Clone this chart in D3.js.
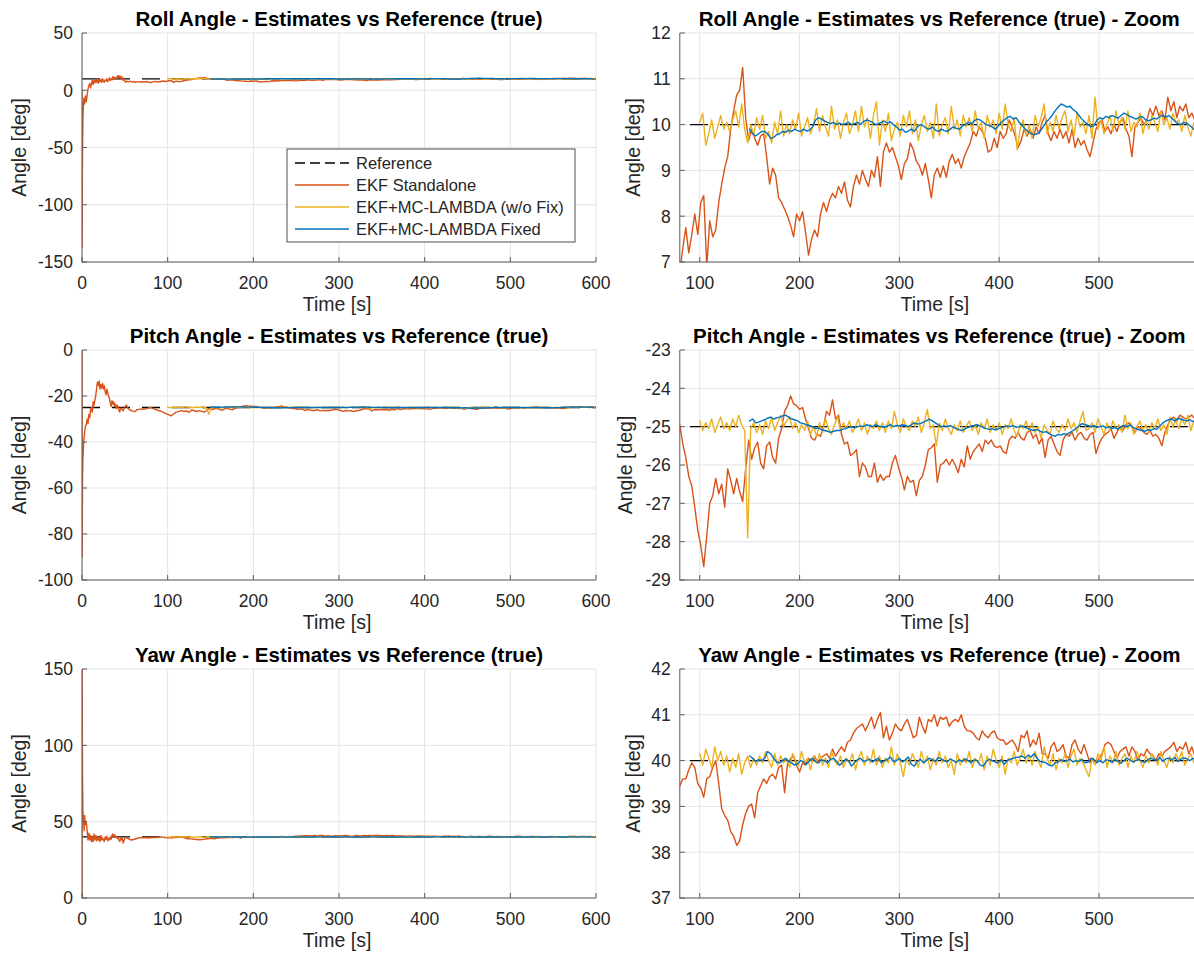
<!DOCTYPE html>
<html>
<head>
<meta charset="utf-8">
<script src="https://cdn.jsdelivr.net/npm/d3@7"></script>
<style>
  body { margin: 0; background: #ffffff; }
  svg { display: block; font-family: "Liberation Sans", Arial, Helvetica, sans-serif; }
</style>
</head>
<body>
<svg id="fig" width="1194" height="955"></svg>
<script>
// ---------------------------------------------------------------
// Attitude estimates (deg) vs time (s).
// Main series are sampled every 3 s from their first epoch;
// the EKF start-up transient (t < 80 s) is kept as [t, value] pairs.
// ---------------------------------------------------------------
const SAMPLE_STEP = 3;
const EKF_START = 80, NOFIX_START = 100, FIXED_START = 150;

const seriesNames  = ["Reference", "EKF Standalone", "EKF+MC-LAMBDA (w/o Fix)", "EKF+MC-LAMBDA Fixed"];
const seriesColors = ["#000000", "#D95319", "#EDB120", "#0072BD"];

// reference (true) attitude
const rollRef = 10, pitchRef = -25, yawRef = 40;

// ---------- ROLL ----------
const rollEkfEarly = [[0,0],[0.2,-137],[0.4,-75],[0.8,-40],[1.2,-22],[1.7,-12],[2.3,-7],[3,-12],[4,-5],[5,-10],[6,-4],[7,1],[8,4],[9,6],[10,2],[11,6],[12,8.5],[13,5],[14,9],[15,6.5],[16,9],[17,7],[18,10],[19,6],[20,9],[21,7.5],[22,9.5],[23,7],[24,10],[25,8],[26,7],[27,9],[28,8],[29,10],[30,7.5],[31,9],[32,11],[33,8.5],[34,10],[35,9],[36,12],[37,10],[38,11],[39,9.5],[40,11.5],[41,10],[42,13],[43,11],[44,12.5],[45,10.5],[46,12],[47,9],[48,11],[49,8.5],[50,8],[51,7],[52,8],[54,7.2],[56,8],[58,7.2],[60,7.6],[62,7],[64,7.5],[66,7.1],[68,7.6],[70,7],[72,7.5],[74,7.2],[76,7.6],[78,7]];
const rollEkf = [
  6.8, 7.3, 7.75, 7.2, 7.6, 8.05, 7.6, 8.3, 8.45, 6.9,
  7.9, 7.55, 7.7, 8.3, 8.7, 9.05, 9.3, 9.9, 10.3, 10.65,
  10.75, 11.25, 10.15, 9.65, 9.9, 9.7, 9.55, 9.75, 9.8, 9.3,
  8.7, 9.05, 8.9, 8.4, 8.3, 8.15, 8.0, 7.8, 7.55, 8.05,
  7.9, 8.1, 7.65, 7.15, 7.5, 7.7, 7.55, 8.05, 8.3, 8.1,
  8.35, 8.5, 8.4, 8.65, 8.5, 8.75, 8.35, 8.2, 8.65, 8.9,
  8.7, 9.0, 8.8, 8.65, 9.0, 8.85, 9.3, 8.65, 9.4, 9.6,
  9.4, 9.5, 9.3, 9.1, 8.8, 9.15, 9.25, 9.6, 9.45, 9.2,
  9.1, 8.9, 9.15, 8.8, 8.4, 8.9, 9.05, 8.85, 9.1, 8.85,
  9.2, 9.35, 9.15, 9.25, 9.05, 9.3, 9.45, 9.6, 9.85, 9.75,
  9.95, 9.85, 9.7, 9.4, 9.45, 9.7, 9.5, 9.85, 9.7, 9.8,
  10.1, 9.95, 9.75, 9.5, 9.65, 9.9, 9.75, 9.9, 9.7, 9.95,
  9.8, 10.05, 10.2, 9.8, 9.65, 9.85, 9.7, 9.9, 9.7, 9.85,
  9.6, 9.9, 9.5, 9.7, 9.55, 9.65, 9.45, 9.3, 9.6, 9.9,
  10.05, 10.1, 9.85, 9.95, 9.8, 10.0, 9.85, 10.05, 10.15, 9.9,
  9.75, 9.3, 9.95, 10.05, 10.15, 10.0, 10.1, 10.35, 10.2, 10.4,
  10.2, 10.3, 10.1, 10.6, 10.3, 10.5, 10.15, 10.4, 10.3, 10.45,
  10.15, 10.25, 10.1, 10.2
];
const rollNoFix = [
  10.05, 10.25, 9.55, 9.8, 10.1, 9.7, 9.95, 10.2, 9.9, 10.05,
  9.85, 10.1, 10.3, 9.95, 10.45, 9.9, 9.6, 10.0, 9.75, 10.15,
  9.9, 10.2, 9.7, 9.85, 9.6, 10.05, 9.8, 10.3, 9.75, 10.0,
  9.8, 10.1, 9.9, 10.25, 9.75, 9.95, 10.15, 9.8, 10.0, 10.35,
  9.85, 10.2, 9.95, 9.75, 10.4, 9.9, 10.1, 9.7, 10.05, 10.25,
  9.8, 10.0, 10.3, 9.85, 10.4, 9.95, 10.15, 9.7, 10.2, 10.5,
  9.55, 10.1, 9.85, 10.25, 9.65, 9.9, 10.05, 9.75, 10.2, 9.95,
  10.3, 9.8, 10.1, 9.65, 10.0, 10.2, 9.85, 10.05, 9.7, 10.45,
  9.75, 10.0, 10.15, 9.8, 10.4, 9.9, 10.1, 9.75, 10.2, 9.95,
  10.15, 9.85, 10.3, 9.9, 10.05, 9.7, 10.2, 9.95, 10.1, 9.8,
  10.25, 9.9, 10.45, 10.0, 9.85, 10.15, 9.45, 9.9, 10.1, 9.75,
  10.0, 9.7, 10.2, 9.95, 10.15, 10.45, 9.8, 10.05, 9.85, 10.2,
  9.9, 10.15, 10.3, 9.85, 10.1, 9.75, 10.25, 9.95, 10.05, 9.8,
  10.2, 9.7, 10.6, 9.9, 10.1, 9.8, 10.0, 10.2, 9.85, 10.3,
  10.0, 10.15, 9.9, 10.3, 9.85, 10.05, 9.95, 10.25, 9.8, 10.1,
  9.9, 10.2, 10.05, 9.85, 10.3, 10.0, 10.15, 9.9, 10.25, 10.05,
  10.1, 9.85, 10.2, 9.95, 9.75, 10.05, 9.9
];
const rollFixed = [
  9.9, 9.8, 9.75, 9.8, 9.85, 9.85, 9.8, 9.7, 9.72, 9.78,
  9.8, 9.85, 9.83, 9.88, 9.85, 9.9, 9.87, 9.85, 9.9, 9.86,
  9.88, 9.95, 10.1, 10.15, 10.12, 10.08, 10.05, 10.02, 10.05, 10.0,
  10.03, 10.0, 10.02, 10.05, 10.0, 10.02, 10.05, 10.0, 10.07, 10.1,
  10.08, 10.05, 10.0, 10.02, 10.05, 10.08, 10.03, 10.06, 10.0, 9.95,
  9.88, 9.9, 9.83, 9.86, 9.9, 9.85, 9.95, 10.0, 9.97, 9.92,
  9.9, 9.95, 9.88, 9.85, 9.9, 9.87, 9.85, 9.9, 9.95, 9.92,
  9.9, 9.97, 10.0, 10.05, 10.02, 10.08, 10.12, 10.1, 10.05, 10.0,
  9.98, 9.95, 9.9, 9.97, 10.05, 10.1, 10.15, 10.18, 10.12, 10.15,
  10.05, 9.98, 9.9, 9.85, 9.8, 9.78, 9.8, 9.85, 9.95, 10.05,
  10.12, 10.2, 10.3, 10.38, 10.45, 10.42, 10.38, 10.4, 10.33, 10.28,
  10.2, 10.12, 10.05, 10.0, 9.95, 9.98, 10.1, 10.15, 10.12, 10.18,
  10.15, 10.2, 10.17, 10.14, 10.2, 10.25, 10.22, 10.18, 10.15, 10.12,
  10.15, 10.18, 10.12, 10.08, 10.1, 10.14, 10.12, 10.18, 10.2, 10.16,
  10.2, 10.14, 10.08, 10.02, 10.0, 10.05, 10.03, 9.98, 9.92, 9.86
];

// ---------- PITCH ----------
const pitchEkfEarly = [[0,0],[0.2,-90],[0.4,-72],[0.6,-56],[1,-48],[1.5,-44],[2,-40],[3,-36],[4,-33],[5,-32.5],[6,-30],[7,-32],[8,-28],[9,-29.5],[10,-26],[11,-25],[12,-27],[13,-22.5],[14,-24],[15,-22],[16,-20],[17,-17],[18,-14],[19,-15.5],[20,-13.5],[21,-17],[22,-15],[23,-16.5],[24,-14.5],[25,-17],[26,-15.5],[27,-18],[28,-19.5],[29,-17],[30,-18.5],[31,-20],[32,-21],[33,-23],[34,-24.6],[35,-22],[36,-23.5],[37,-22.5],[38,-24.5],[39,-23.5],[40,-25.5],[41,-24],[42,-24.5],[43,-26],[44,-27],[45,-25.5],[46,-25.2],[47,-26],[48,-26.5],[49,-25.5],[50,-24.8],[51,-24.2],[52,-24],[53,-24.8],[54,-25.5],[56,-26],[58,-26.5],[60,-26.6],[62,-26.8],[64,-26],[66,-25.8],[68,-25.7],[70,-25.6],[72,-25.8],[74,-25.6],[76,-25.5],[78,-25.2]];
const pitchEkf = [
  -24.95, -25.45, -25.8, -26.3, -26.55, -27.1, -27.7, -28.1, -28.65, -27.85,
  -27.0, -26.8, -26.35, -26.75, -26.5, -27.1, -26.1, -26.4, -26.75, -26.35,
  -26.7, -26.95, -26.1, -25.35, -25.85, -25.55, -25.4, -25.95, -26.1, -25.5,
  -25.4, -25.8, -25.95, -25.3, -25.05, -24.6, -24.45, -24.2, -24.4, -24.45,
  -24.55, -24.5, -24.8, -25.05, -25.3, -25.35, -25.2, -25.25, -25.0, -24.6,
  -24.7, -24.3, -24.8, -24.7, -25.2, -25.45, -25.4, -25.75, -25.7, -25.6,
  -26.3, -25.95, -26.05, -26.3, -26.3, -25.95, -26.45, -26.25, -26.4, -26.3,
  -26.3, -25.95, -25.75, -26.05, -26.3, -26.65, -26.3, -26.45, -26.4, -26.8,
  -26.4, -26.3, -26.0, -25.6, -25.55, -25.45, -26.45, -26.0, -25.95, -25.85,
  -26.0, -25.85, -26.0, -26.2, -25.85, -26.05, -25.5, -25.85, -25.65, -25.55,
  -25.45, -25.65, -25.35, -25.45, -25.35, -25.5, -25.55, -25.5, -25.65, -25.7,
  -25.35, -25.25, -25.3, -25.15, -25.3, -25.35, -25.15, -25.1, -25.3, -25.2,
  -25.45, -25.3, -25.8, -25.35, -25.25, -25.45, -25.65, -25.75, -25.35, -25.2,
  -25.25, -25.15, -25.35, -25.2, -25.15, -25.3, -25.35, -25.2, -25.15, -25.7,
  -25.45, -25.3, -25.2, -25.15, -25.05, -25.3, -25.15, -25.0, -25.1, -24.95,
  -24.9, -25.0, -25.15, -25.0, -25.05, -25.15, -25.2, -25.1, -25.25, -25.2,
  -25.3, -25.5, -25.15, -24.95, -24.8, -24.75, -24.85, -24.7, -24.75, -24.8,
  -24.75, -24.7, -24.8, -24.85
];
const pitchNoFix = [
  -24.85, -25.1, -24.9, -25.05, -24.8, -25.15, -24.95, -24.75, -25.05, -24.9,
  -25.1, -24.8, -25.0, -24.7, -24.95, -25.1, -27.9, -25.05, -24.9, -25.15,
  -24.95, -25.2, -24.85, -25.05, -24.75, -25.1, -24.9, -24.7, -25.0, -24.85,
  -24.75, -25.05, -24.9, -25.15, -24.95, -25.1, -24.85, -25.2, -25.0, -25.25,
  -24.9, -25.15, -24.8, -25.05, -25.2, -24.95, -24.75, -25.1, -24.9, -25.05,
  -24.85, -25.15, -25.0, -24.8, -25.1, -24.9, -25.2, -24.95, -25.05, -24.85,
  -25.1, -24.9, -25.15, -24.85, -25.05, -24.6, -24.95, -25.15, -24.8, -25.0,
  -25.1, -24.85, -25.0, -24.75, -25.15, -24.9, -24.55, -25.05, -24.95, -25.5,
  -24.9, -25.1, -24.8, -25.05, -25.2, -24.95, -25.1, -24.85, -25.15, -25.0,
  -24.85, -25.1, -24.95, -25.2, -24.9, -25.05, -24.8, -25.15, -24.95, -25.1,
  -24.9, -25.2, -24.95, -25.05, -24.8, -25.1, -25.25, -24.95, -25.05, -24.85,
  -25.1, -24.9, -25.15, -25.0, -25.3, -24.95, -25.1, -25.2, -24.85, -25.05,
  -25.15, -24.95, -25.1, -24.8, -25.05, -24.9, -25.15, -24.85, -24.6, -25.1,
  -25.05, -24.9, -25.15, -24.8, -25.0, -25.2, -24.9, -25.1, -24.85, -25.05,
  -24.95, -25.15, -24.7, -25.05, -24.9, -25.2, -25.0, -24.85, -25.1, -24.95,
  -25.15, -24.9, -25.05, -24.8, -25.1, -24.95, -25.2, -24.75, -25.0, -24.85,
  -25.05, -24.8, -24.95, -24.7, -25.1, -24.85, -25.0
];
const pitchFixed = [
  -24.85, -24.8, -24.9, -24.88, -24.85, -24.82, -24.78, -24.75, -24.8, -24.77,
  -24.75, -24.72, -24.7, -24.75, -24.8, -24.82, -24.85, -24.9, -24.92, -24.95,
  -24.97, -25.0, -25.05, -25.03, -25.08, -25.1, -25.12, -25.15, -25.12, -25.1,
  -25.1, -25.07, -25.05, -25.02, -25.0, -25.03, -25.0, -24.98, -25.0, -24.95,
  -24.97, -25.0, -24.95, -24.98, -25.0, -25.02, -24.98, -24.95, -25.0, -24.97,
  -24.98, -24.95, -24.97, -25.0, -24.95, -24.9, -24.93, -24.92, -24.88, -24.85,
  -24.8, -24.85, -24.9, -24.95, -25.0, -24.98, -25.0, -24.97, -25.02, -25.05,
  -25.08, -25.1, -25.05, -25.02, -24.98, -24.97, -24.95, -24.98, -25.02, -25.05,
  -25.07, -25.05, -25.08, -25.06, -25.03, -25.0, -24.98, -25.0, -24.97, -25.02,
  -25.0, -24.98, -25.02, -25.05, -25.08, -25.1, -25.07, -25.12, -25.15, -25.13,
  -25.18, -25.22, -25.25, -25.2, -25.22, -25.18, -25.2, -25.15, -25.1, -25.05,
  -24.98, -24.92, -24.95, -24.97, -25.0, -24.97, -25.02, -25.0, -24.98, -25.03,
  -25.0, -25.05, -25.02, -25.07, -25.0, -24.97, -25.0, -24.95, -25.02, -25.05,
  -25.08, -25.1, -25.12, -25.08, -25.1, -25.05, -25.07, -24.98, -24.9, -24.85,
  -24.82, -24.8, -24.85, -24.78, -24.8, -24.83, -24.85, -24.82, -24.86, -24.88
];

// ---------- YAW ----------
const yawEkfEarly = [[0,0],[0.15,150],[0.6,80],[1,58],[1.5,52],[2,50],[2.5,44],[3,54],[4,48],[5,50],[6,44],[7,38],[8,42.5],[9,38],[10,41],[11,37],[12,40],[13,37],[14,42],[15,38],[16,41],[17,37.5],[18,40.5],[19,38],[20,39],[21,37],[22,41],[23,38],[24,39.5],[25,38],[26,37],[27,40],[28,38.5],[29,40.5],[30,37.5],[31,39],[32,38],[33,40],[34,38.5],[35,41],[36,42],[37,40],[38,41.5],[39,40],[40,40.5],[41,39],[42,39.5],[43,38],[44,37],[45,39],[46,38],[47,39.5],[48,36],[49,37.5],[50,39],[52,39.5],[55,38.5],[58,38],[61,38.5],[64,39],[67,39.5],[70,39.4],[73,39.6],[76,39.5],[78,39.3]];
const yawEkf = [
  39.45, 39.6, 39.6, 39.8, 39.95, 39.85, 39.5, 39.4, 39.2, 39.6,
  39.65, 39.85, 40.0, 39.5, 38.95, 38.8, 38.7, 38.45, 38.35, 38.15,
  38.25, 38.6, 38.85, 39.0, 39.05, 38.75, 39.3, 39.45, 39.6, 39.5,
  39.65, 39.7, 39.6, 39.85, 39.9, 39.3, 39.95, 40.05, 40.1, 39.9,
  39.75, 39.95, 39.9, 40.05, 40.0, 40.1, 39.95, 40.05, 40.1, 40.15,
  40.05, 40.25, 40.1, 40.2, 40.3, 40.2, 40.4, 40.45, 40.6, 40.7,
  40.75, 40.8, 40.65, 40.8, 40.95, 40.7, 40.9, 41.05, 40.5, 40.75,
  40.45, 40.6, 40.8, 40.7, 40.65, 40.8, 40.9, 40.7, 40.5, 40.55,
  40.95, 40.75, 40.6, 40.9, 40.85, 41.0, 40.75, 40.95, 40.9, 40.95,
  40.75, 40.85, 40.9, 40.85, 41.0, 40.75, 40.65, 40.65, 40.6, 40.5,
  40.45, 40.65, 40.55, 40.5, 40.6, 40.65, 40.5, 40.45, 40.45, 40.35,
  40.4, 40.45, 40.35, 40.2, 40.55, 40.5, 40.65, 40.3, 40.45, 40.35,
  40.6, 40.15, 40.15, 40.05, 40.3, 40.4, 40.2, 40.25, 40.35, 40.1,
  40.05, 40.35, 40.45, 40.25, 40.15, 40.35, 40.15, 39.95, 40.05, 39.95,
  40.05, 40.15, 40.35, 40.4, 40.35, 40.2, 40.05, 40.2, 40.25, 40.3,
  40.1, 40.3, 40.2, 40.0, 40.15, 40.1, 40.25, 40.15, 40.1, 40.0,
  40.15, 40.1, 40.2, 40.25, 40.3, 40.4, 40.2, 40.3, 40.25, 40.4,
  40.15, 40.3, 40.1, 40.2
];
const yawNoFix = [
  40.15, 39.9, 40.25, 40.05, 39.85, 40.3, 40.0, 40.2, 39.9, 40.1,
  39.75, 40.05, 39.85, 40.15, 39.7, 39.95, 40.1, 39.85, 40.05, 39.9,
  40.1, 39.95, 40.2, 40.0, 39.85, 40.15, 39.9, 40.1, 39.95, 40.05,
  39.85, 40.15, 40.0, 39.9, 40.2, 39.95, 40.05, 39.8, 40.1, 39.95,
  40.15, 39.9, 40.05, 39.85, 40.2, 40.0, 39.9, 40.1, 39.85, 40.05,
  39.95, 40.15, 39.8, 40.05, 40.2, 39.9, 40.1, 39.95, 40.25, 39.9,
  40.1, 39.85, 40.05, 39.95, 40.3, 39.9, 40.15, 39.95, 39.65, 40.05,
  39.9, 40.15, 40.0, 39.85, 40.2, 39.95, 40.1, 39.8, 40.05, 39.9,
  40.2, 39.95, 40.1, 39.85, 40.0, 39.7, 40.15, 39.9, 40.05, 39.95,
  40.2, 39.85, 40.05, 39.95, 40.15, 39.8, 40.1, 39.9, 40.25, 40.0,
  39.85, 40.1, 39.7, 40.05, 39.95, 40.2, 39.9, 40.05, 40.25, 39.95,
  40.1, 39.9, 40.2, 40.0, 39.85, 40.3, 40.05, 39.9, 40.15, 39.8,
  40.05, 39.95, 40.15, 39.85, 40.1, 40.25, 39.9, 40.05, 39.95, 39.8,
  39.65, 40.05, 39.9, 40.15, 40.0, 40.3, 39.85, 40.1, 39.95, 40.2,
  39.9, 40.05, 40.15, 39.85, 40.1, 39.95, 40.2, 40.0, 39.85, 40.1,
  39.95, 40.15, 40.05, 39.9, 40.2, 40.0, 39.85, 40.1, 39.95, 40.15,
  40.0, 40.2, 39.9, 40.05, 40.15, 39.95, 40.1
];
const yawFixed = [
  40.1, 40.05, 39.98, 40.02, 40.0, 40.05, 40.2, 40.15, 40.05, 39.97,
  39.95, 40.0, 40.05, 39.98, 39.95, 39.9, 39.93, 40.0, 39.97, 39.92,
  40.0, 40.05, 39.98, 39.95, 40.02, 40.0, 39.95, 40.03, 40.05, 39.98,
  39.9, 39.95, 40.03, 40.0, 39.88, 39.95, 40.02, 40.05, 39.98, 40.0,
  40.03, 39.97, 40.02, 40.05, 39.95, 40.0, 40.03, 40.08, 39.98, 40.0,
  40.05, 39.97, 40.02, 40.08, 39.92, 39.88, 39.98, 40.03, 39.95, 40.0,
  40.05, 40.02, 39.98, 40.07, 40.03, 40.0, 39.97, 40.04, 40.0, 39.96,
  40.02, 39.98, 40.04, 40.0, 39.95, 40.02, 40.0, 39.9, 39.88, 39.98,
  40.03, 40.0, 39.97, 39.95, 40.02, 39.92, 40.0, 40.03, 40.05, 40.07,
  40.08, 40.1, 40.05, 40.12, 40.08, 40.15, 40.05, 39.98, 39.97, 39.95,
  39.9, 39.88, 39.95, 39.97, 40.02, 39.98, 40.0, 40.03, 39.97, 40.0,
  39.98, 40.03, 39.95, 39.97, 40.05, 40.02, 39.96, 40.0, 39.95, 40.02,
  40.0, 39.96, 40.03, 39.98, 39.94, 40.0, 40.05, 40.02, 39.97, 40.0,
  40.03, 39.98, 39.96, 40.02, 40.05, 40.03, 40.0, 40.07, 39.98, 40.04,
  40.05, 40.02, 40.07, 39.98, 40.03, 40.06, 40.04, 40.0, 40.05, 40.02
];

// ---------- axis ticks ----------
const timeTicksFull = [0, 100, 200, 300, 400, 500, 600];
const timeTicksZoom = [100, 200, 300, 400, 500];
const rollTicksFull  = [-150, -100, -50, 0, 50];
const rollTicksZoom  = [7, 8, 9, 10, 11, 12];
const pitchTicksFull = [-100, -80, -60, -40, -20, 0];
const pitchTicksZoom = [-29, -28, -27, -26, -25, -24, -23];
const yawTicksFull   = [0, 50, 100, 150];
const yawTicksZoom   = [37, 38, 39, 40, 41, 42];

// ---------------------------------------------------------------
// Layout
// ---------------------------------------------------------------
const W = 1194, H = 955;
const rowBoxes = [
  { top: 33,  bottom: 262 },
  { top: 350, bottom: 580 },
  { top: 669, bottom: 898 }
];
const colFull = { x0: 82,    x1: 596,    domain: [0, 600],  ticks: timeTicksFull };
const colZoom = { x0: 679.8, x1: 1198.8, domain: [80, 600], ticks: timeTicksZoom };

const GRID = "#e3e3e3", AXIS = "#5c5c5c", TEXT = "#262626";
const LINE_W = 1.4;
const TICK_FS = 17.5, LABEL_FS = 19.5, TITLE_FS = 20.5, LEGEND_FS = 16.5;

const svg = d3.select("#fig");
svg.append("rect").attr("width", W).attr("height", H).attr("fill", "#ffffff");

const sampled = (vals, start) => vals.map((v, i) => [start + SAMPLE_STEP * i, v]);

const angles = [
  { name: "Roll",  ref: rollRef,  early: rollEkfEarly,  ekf: rollEkf,  noFix: rollNoFix,  fixed: rollFixed,
    full: { domain: [-150, 50],  ticks: rollTicksFull,  ylab: 26 },
    zoom: { domain: [7, 12],     ticks: rollTicksZoom,  ylab: 640 } },
  { name: "Pitch", ref: pitchRef, early: pitchEkfEarly, ekf: pitchEkf, noFix: pitchNoFix, fixed: pitchFixed,
    full: { domain: [-100, 0],   ticks: pitchTicksFull, ylab: 26 },
    zoom: { domain: [-29, -23],  ticks: pitchTicksZoom, ylab: 632 } },
  { name: "Yaw",   ref: yawRef,   early: yawEkfEarly,   ekf: yawEkf,   noFix: yawNoFix,   fixed: yawFixed,
    full: { domain: [0, 150],    ticks: yawTicksFull,   ylab: 26 },
    zoom: { domain: [37, 42],    ticks: yawTicksZoom,   ylab: 640 } }
];

let clipId = 0;

function drawPanel(box, col, yCfg, title, a, withLegend) {
  const x = d3.scaleLinear().domain(col.domain).range([col.x0, col.x1]);
  const y = d3.scaleLinear().domain(yCfg.domain).range([box.bottom, box.top]);
  const g = svg.append("g");

  // grid
  const grid = g.append("g").attr("stroke", GRID).attr("stroke-width", 1);
  col.ticks.forEach(t => {
    grid.append("line").attr("x1", x(t)).attr("x2", x(t)).attr("y1", box.top).attr("y2", box.bottom);
  });
  yCfg.ticks.forEach(v => {
    grid.append("line").attr("x1", col.x0).attr("x2", col.x1).attr("y1", y(v)).attr("y2", y(v));
  });

  // data
  const id = "clip" + (clipId++);
  svg.append("clipPath").attr("id", id).append("rect")
    .attr("x", col.x0).attr("y", box.top)
    .attr("width", col.x1 - col.x0).attr("height", box.bottom - box.top);
  const plot = g.append("g").attr("clip-path", `url(#${id})`);
  const line = d3.line().x(d => x(d[0])).y(d => y(d[1]));

  const refPts = [[0, a.ref], [600, a.ref]];
  const ekfPts = a.early.concat(sampled(a.ekf, EKF_START));
  const noFixPts = sampled(a.noFix, NOFIX_START);
  const fixedPts = sampled(a.fixed, FIXED_START);

  plot.append("path").attr("d", line(refPts)).attr("fill", "none")
    .attr("stroke", seriesColors[0]).attr("stroke-width", 1.3).attr("stroke-dasharray", "18,12");
  [[ekfPts, 1], [noFixPts, 2], [fixedPts, 3]].forEach(([pts, k]) => {
    plot.append("path").attr("d", line(pts)).attr("fill", "none")
      .attr("stroke", seriesColors[k]).attr("stroke-width", LINE_W)
      .attr("stroke-linejoin", "round").attr("stroke-linecap", "round");
  });

  // axes (left and bottom, ticks pointing inward)
  const ax = g.append("g").attr("stroke", AXIS).attr("stroke-width", 1);
  ax.append("line").attr("x1", col.x0).attr("x2", col.x0).attr("y1", box.top).attr("y2", box.bottom + 0.5);
  ax.append("line").attr("x1", col.x0).attr("x2", col.x1).attr("y1", box.bottom).attr("y2", box.bottom);
  col.ticks.forEach(t => {
    ax.append("line").attr("x1", x(t)).attr("x2", x(t)).attr("y1", box.bottom).attr("y2", box.bottom - 5);
  });
  yCfg.ticks.forEach(v => {
    ax.append("line").attr("x1", col.x0).attr("x2", col.x0 + 5).attr("y1", y(v)).attr("y2", y(v));
  });

  // tick labels
  const lab = g.append("g").attr("fill", TEXT).attr("font-size", TICK_FS);
  col.ticks.forEach(t => {
    lab.append("text").attr("x", x(t)).attr("y", box.bottom + 26.5)
      .attr("text-anchor", "middle").text(String(t));
  });
  yCfg.ticks.forEach(v => {
    lab.append("text").attr("x", col.x0 - 9).attr("y", y(v) + 6.3)
      .attr("text-anchor", "end").text(String(v));
  });

  // axis titles
  g.append("text").attr("x", (col.x0 + Math.min(col.x1, W)) / 2 - 2).attr("y", box.bottom + 48.5)
    .attr("text-anchor", "middle").attr("fill", TEXT).attr("font-size", LABEL_FS).text("Time [s]");
  g.append("text").attr("transform", `translate(${yCfg.ylab},${(box.top + box.bottom) / 2}) rotate(-90)`)
    .attr("text-anchor", "middle").attr("fill", TEXT).attr("font-size", LABEL_FS).text("Angle [deg]");

  // title
  g.append("text").attr("x", (col.x0 + col.x1) / 2).attr("y", box.top - 7.5)
    .attr("text-anchor", "middle").attr("fill", "#000").attr("font-size", TITLE_FS)
    .attr("font-weight", "bold").text(title);

  if (withLegend) drawLegend();
}

function drawLegend() {
  const lg = svg.append("g");
  const bx = 287, by = 149, bw = 288, bh = 93;
  lg.append("rect").attr("x", bx).attr("y", by).attr("width", bw).attr("height", bh)
    .attr("fill", "#ffffff").attr("stroke", "#3a3a3a").attr("stroke-width", 0.9);
  const rowY = [163, 185, 207, 229];
  seriesNames.forEach((nm, i) => {
    const l = lg.append("line").attr("x1", 295).attr("x2", 349).attr("y1", rowY[i]).attr("y2", rowY[i])
      .attr("stroke", seriesColors[i]).attr("stroke-width", i === 0 ? 1.3 : 1.4);
    if (i === 0) l.attr("stroke-dasharray", "10,5");
    lg.append("text").attr("x", 356).attr("y", rowY[i] + 5.8).attr("fill", TEXT)
      .attr("font-size", LEGEND_FS).text(nm);
  });
}

angles.forEach((a, r) => {
  const box = rowBoxes[r];
  drawPanel(box, colFull, a.full, `${a.name} Angle - Estimates vs Reference (true)`, a, r === 0);
  drawPanel(box, colZoom, a.zoom, `${a.name} Angle - Estimates vs Reference (true) - Zoom`, a, false);
});
</script>
</body>
</html>
